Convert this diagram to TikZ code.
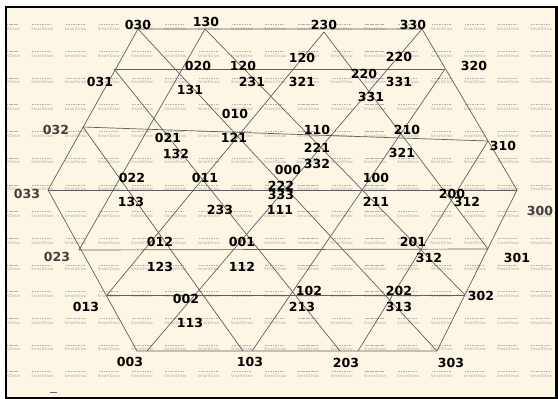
\documentclass[tikz,border=0pt]{standalone}
\usepackage{fontspec}
\setmainfont{DejaVu Sans}
\definecolor{bg}{RGB}{253,246,228}
\definecolor{wm}{RGB}{178,176,168}
\definecolor{gridc}{RGB}{95,95,95}
\begin{document}
\begin{tikzpicture}[x=1pt,y=-1pt,
  lbl/.style={font=\fontsize{12.5}{13}\selectfont\bfseries, text=black, inner sep=0pt},
  lblg/.style={lbl, text=black!75},
  gridline/.style={draw=gridc, line width=0.7pt},
  wmline/.style={draw=wm, line width=0.35pt, dash pattern=on 1.6pt off 0.9pt},
  wmtext/.style={font=\fontsize{3.9}{4}\selectfont, text=wm, inner sep=0pt}
]
\useasboundingbox (0,0) rectangle (558,399);
\fill[white] (0,0) rectangle (558,399);
\fill[bg] (6,7) rectangle (556.5,398);
% watermark grid
\begin{scope}
\clip (6,7) rectangle (556.5,398);
\foreach \r in {0,...,13} {
  \foreach \c in {0,...,16} {
    \pgfmathsetmacro\xx{9+33.27*\c}
    \pgfmathsetmacro\yy{29+26.7*\r}
    \draw[wmline] (\xx-10,\yy-4.5) -- (\xx+10,\yy-4.5);
    \node[wmtext] (wm-\r-\c) at (\xx,\yy) {SmartDraw};
  }
}
\end{scope}
% lattice points
\coordinate (c030) at (138,29);
\coordinate (c330) at (422,29);
\coordinate (c300) at (517,190);
\coordinate (c303) at (437,351);
\coordinate (c003) at (137,351);
\coordinate (c033) at (48,190);
\coordinate (t130) at (205,29);
\coordinate (t230) at (324,32);
\coordinate (v320) at (445,69);
\coordinate (v310) at (488,141);
\coordinate (v301) at (488,249);
\coordinate (v302) at (465,295);
\coordinate (b203a) at (340,351);
\coordinate (b203b) at (358,351);
\coordinate (b103a) at (243,351);
\coordinate (b103b) at (252,351);
\coordinate (b003s) at (147,351);
\coordinate (v013) at (107,295);
\coordinate (v023) at (79,250);
\coordinate (v032) at (83,127);
\coordinate (v031) at (114,69);
% outline
\draw[gridline] (c030) -- (c330) -- (c300) -- (c303) -- (c003) -- (c033) -- cycle;
% horizontal lines
\draw[gridline] (v031) -- (v320);
\draw[gridline] (v032) -- (v310);
\draw[gridline] (c033) -- (c300);
\draw[gridline] (v023) -- (v301);
\draw[gridline] (v013) -- (v302);
% down-right lines
\draw[gridline] (v032) -- (b103a);
\draw[gridline] (v031) -- (b203a);
\draw[gridline] (c030) -- (c303);
\draw[gridline] (t130) -- (v302);
\draw[gridline] (t230) -- (v301);
% down-left lines
\draw[gridline] (t130) -- (v023);
\draw[gridline] (t230) -- (v013);
\draw[gridline] (c330) -- (b003s);
\draw[gridline] (v320) -- (b103b);
\draw[gridline] (v310) -- (b203b);
% labels
\node[lbl] (l030) at (138,25) {030};
\node[lbl] (l130) at (206,22) {130};
\node[lbl] (l230) at (324,25) {230};
\node[lbl] (l330) at (413,25) {330};
\node[lbl] (l031) at (100,82) {031};
\node[lbl] (l020) at (198,66) {020};
\node[lbl] (l120a) at (243,66) {120};
\node[lbl] (l231) at (252,82) {231};
\node[lbl] (l131) at (190,90) {131};
\node[lbl] (l120b) at (302,58) {120};
\node[lbl] (l321a) at (302,82) {321};
\node[lbl] (l220a) at (364,74) {220};
\node[lbl] (l220b) at (399,57) {220};
\node[lbl] (l331a) at (399,82) {331};
\node[lbl] (l331b) at (371,97) {331};
\node[lbl] (l320) at (474,66) {320};
\node[lblg] (l032) at (56,130) {032};
\node[lbl] (l021) at (168,138) {021};
\node[lbl] (l132) at (176,154) {132};
\node[lbl] (l010) at (235,114) {010};
\node[lbl] (l121) at (234,138) {121};
\node[lbl] (l110) at (317,130) {110};
\node[lbl] (l221) at (317,148) {221};
\node[lbl] (l332) at (317,164) {332};
\node[lbl] (l210) at (407,130) {210};
\node[lbl] (l321b) at (402,153) {321};
\node[lbl] (l310) at (503,146) {310};
\node[lbl] (l022) at (132,178) {022};
\node[lbl] (l011) at (205,178) {011};
\node[lbl] (l000) at (288,170) {000};
\node[lbl] (l222) at (281,186) {222};
\node[lbl] (l333) at (281,195) {333};
\node[lbl] (l111) at (280,210) {111};
\node[lbl] (l100) at (376,178) {100};
\node[lbl] (l211) at (376,202) {211};
\node[lbl] (l200) at (452,194) {200};
\node[lbl] (l312a) at (467,202) {312};
\node[lblg] (l300) at (540,211) {300};
\node[lblg] (l033) at (27,194) {033};
\node[lbl] (l133) at (131,202) {133};
\node[lbl] (l233) at (220,210) {233};
\node[lbl] (l012) at (160,242) {012};
\node[lbl] (l001) at (242,242) {001};
\node[lblg] (l023) at (57,257) {023};
\node[lbl] (l123) at (160,267) {123};
\node[lbl] (l112) at (242,267) {112};
\node[lbl] (l201) at (413,242) {201};
\node[lbl] (l312b) at (429,258) {312};
\node[lbl] (l301) at (517,258) {301};
\node[lbl] (l002) at (186,299) {002};
\node[lbl] (l013) at (86,307) {013};
\node[lbl] (l113) at (190,323) {113};
\node[lbl] (l102) at (309,291) {102};
\node[lbl] (l213) at (302,307) {213};
\node[lbl] (l202) at (399,291) {202};
\node[lbl] (l313) at (399,307) {313};
\node[lbl] (l302) at (481,296) {302};
\node[lbl] (l003) at (130,362) {003};
\node[lbl] (l103) at (250,362) {103};
\node[lbl] (l203) at (346,363) {203};
\node[lbl] (l303) at (451,363) {303};
% small mark
\coordinate (m1) at (50,392);
\coordinate (m2) at (57,392);
\draw[draw=black!60, line width=0.8pt] (m1) -- (m2);
% frame
\draw[black, line width=2.3pt] (6,7) rectangle (556.5,398);
\end{tikzpicture}
\end{document}
